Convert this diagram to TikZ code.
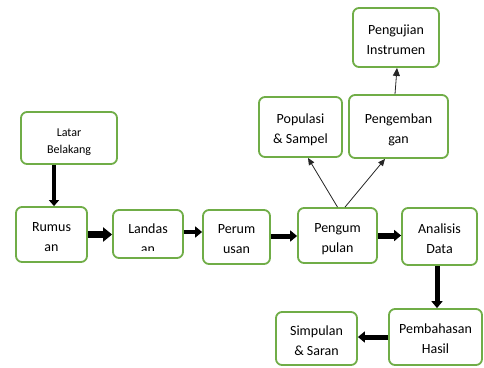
\documentclass[tikz,border=0pt]{standalone}
\usepackage{fontspec}
\setmainfont{Carlito}
\usetikzlibrary{arrows.meta}
\definecolor{boxgreen}{HTML}{70AD47}
\tikzset{
  box/.style={draw=boxgreen, line width=1.8pt, rounded corners=6pt, fill=white,
    inner sep=0pt, align=center, font=\fontsize{14}{20}\selectfont,
    text height=36pt, text depth=3pt},
  txt/.style={inner sep=0pt, align=center, font=\fontsize{14}{20}\selectfont,
    text height=41pt, text depth=3pt},
  fat/.style={line width=5pt, -{Triangle[length=7pt,width=11pt]}},
  thin/.style={line width=0.8pt, black!85, -{Triangle[length=7pt,width=6pt]}}
}
\begin{document}
\begin{tikzpicture}[x=1pt,y=-1pt]
\useasboundingbox (0,0) rectangle (484,367);
\node[box, minimum width=96pt, minimum height=52pt, font=\fontsize{12}{17}\selectfont, text height=33pt, text depth=3pt] (lat) at (69,138) {Latar\\Belakang};
\node[box, minimum width=71pt, minimum height=55pt] (rum) at (51.5,234.5) {Rumus\\an};
\node[box, minimum width=70pt, minimum height=48pt] (lan) at (148,234) {};
\begin{scope}
  \clip (113,210) rectangle (183,250);
  \node[txt] (lantext) at (lan.center) {Landas\\an};
\end{scope}
\node[box, minimum width=67pt, minimum height=54pt] (per) at (236.5,237) {Perum\\usan};
\node[box, minimum width=79pt, minimum height=55pt] (pgp) at (337.5,235.5) {Pengum\\pulan};
\node[box, minimum width=75pt, minimum height=57pt] (ana) at (439.5,236.5) {Analisis\\Data};
\node[box, minimum width=83pt, minimum height=60pt] (pop) at (300.5,127) {Populasi\\\& Sampel};
\node[box, minimum width=99pt, minimum height=63pt] (pgb) at (398.5,126.5) {Pengemban\\gan};
\node[box, minimum width=86pt, minimum height=59pt] (uji) at (396,37.5) {Pengujian\\Instrumen};
\node[box, minimum width=81pt, minimum height=53pt] (sim) at (316.5,338.5) {Simpulan\\\& Saran};
\node[box, minimum width=93pt, minimum height=56pt] (pem) at (435.5,337) {Pembahasan\\Hasil};

\draw[fat, line width=4pt, -{Triangle[length=6pt,width=10pt]}] ([xshift=-15pt]lat.south) -- ([xshift=2.5pt]rum.north);
\draw[fat, line width=6.5pt, -{Triangle[length=9pt,width=14pt]}] (rum.east) -- (rum.east -| lan.west);
\draw[fat, line width=4.5pt] ([yshift=2pt]lan.east) -- ([yshift=2pt]lan.east -| per.west);
\draw[fat] ([yshift=1pt]per.east) -- ([yshift=1pt]per.east -| pgp.west);
\draw[fat, line width=6pt] (pgp.east) -- (pgp.east -| ana.west);
\draw[fat] ([xshift=-2.5pt]ana.south) -- ([xshift=-2.5pt]ana.south |- pem.north);
\draw[fat] (pem.west) -- (pem.west -| sim.east);
\draw[thin] (pgp.north) -- ([xshift=7.5pt]pop.south);
\draw[thin] ([xshift=7.5pt]pgp.north) -- ([xshift=-13.5pt]pgb.south);
\draw[thin, -{Triangle[length=8pt,width=7pt]}] ([xshift=-3.5pt]pgb.north) -- ([xshift=1pt]uji.south);
\end{tikzpicture}
\end{document}
